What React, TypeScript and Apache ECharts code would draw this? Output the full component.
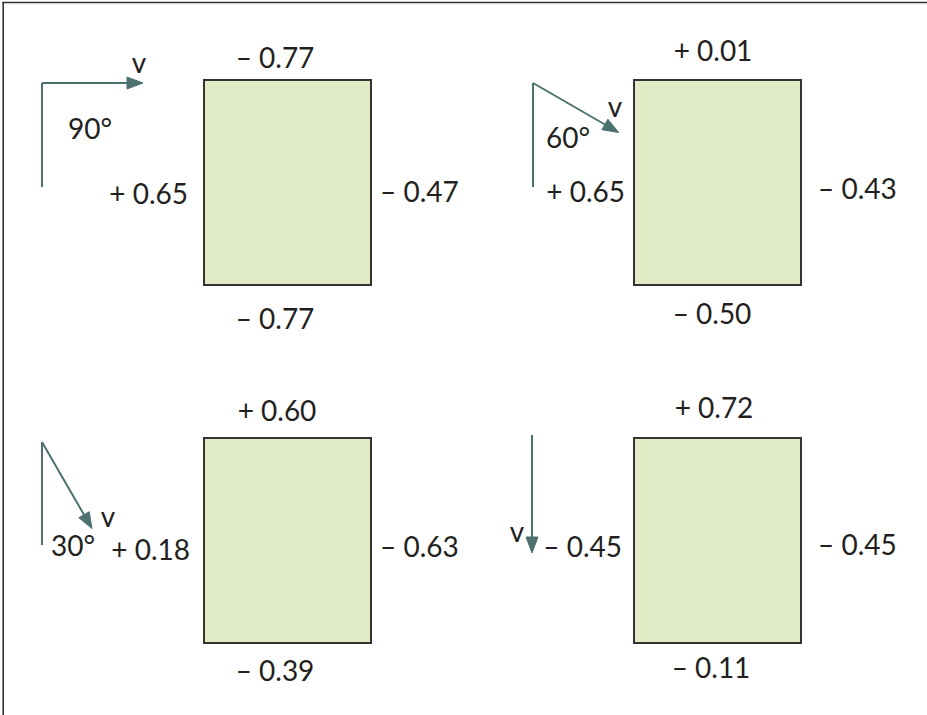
import React, { useEffect, useRef } from "react";
import * as echarts from "echarts";

// ---- data ----
const topValues = [-0.77, 0.01, 0.6, 0.72];
const bottomValues = [-0.77, -0.5, -0.39, -0.11];
const leftValues = [0.65, 0.65, 0.18, -0.45];
const rightValues = [-0.47, -0.43, -0.63, -0.45];
const angles = [90, 60, 30, 0];
const vectorLabel = "v";

// ---- layout (pixels) ----
const rectX = [204, 634, 204, 634];
const rectY = [80, 80, 438, 438];
const rectW = 167;
const rectH = 205;
const topLabelPos = [[275, 57], [713, 50], [277, 410], [714, 407]];
const bottomLabelPos = [[275, 318], [712, 313], [275, 670], [711, 667]];
const leftLabelPos = [[188, 193], [625, 191], [190, 549], [622, 546]];
const rightLabelPos = [[380, 191], [818, 188], [380, 546], [818, 544]];
const arrowOrigin = [[42, 83], [533, 83], [42, 442], [532, 435]];
const refLineBottom = [187, 187, 545, null];
const arrowLength = [101, 99, 100, 118];
const vLabelPos = [[139, 62], [615, 106], [108, 516], [517, 531]];
const angleLabelPos = [[68, 128], [546, 137], [51, 545], null];

const FONT = "Lato, 'Open Sans', sans-serif";
const FONT_SIZE = 28;
const TEXT_COLOR = "#231f20";
const ARROW_COLOR = "#4d7170";
const FILL = "#e1ecc7";

function fmt(v: number): string {
  const sign = v < 0 ? "\u2013" : "+";
  return sign + " " + Math.abs(v).toFixed(2);
}

function text(str: string, x: number, y: number, align: string) {
  return {
    type: "text",
    x,
    y,
    silent: true,
    style: {
      text: str,
      fill: TEXT_COLOR,
      fontSize: FONT_SIZE,
      fontFamily: FONT,
      align,
      verticalAlign: "middle",
    },
  };
}

function buildGraphic() {
  const els: any[] = [];
  // frame (top and left edges)
  els.push({
    type: "line",
    silent: true,
    shape: { x1: 2.4, y1: 2.5, x2: 927, y2: 2.5 },
    style: { stroke: "#333", lineWidth: 1.6 },
  });
  els.push({
    type: "line",
    silent: true,
    shape: { x1: 3.2, y1: 2, x2: 3.2, y2: 715 },
    style: { stroke: "#333", lineWidth: 1.6 },
  });
  for (let i = 0; i < 4; i++) {
    els.push({
      type: "rect",
      silent: true,
      shape: { x: rectX[i], y: rectY[i], width: rectW, height: rectH },
      style: { fill: FILL, stroke: "#333", lineWidth: 2 },
    });
    els.push(text(fmt(topValues[i]), topLabelPos[i][0], topLabelPos[i][1], "center"));
    els.push(text(fmt(bottomValues[i]), bottomLabelPos[i][0], bottomLabelPos[i][1], "center"));
    els.push(text(fmt(leftValues[i]), leftLabelPos[i][0], leftLabelPos[i][1], "right"));
    els.push(text(fmt(rightValues[i]), rightLabelPos[i][0], rightLabelPos[i][1], "left"));

    // reference (vertical) line
    const [ox, oy] = arrowOrigin[i];
    const rb = refLineBottom[i];
    if (rb !== null) {
      els.push({
        type: "line",
        silent: true,
        shape: { x1: ox, y1: rb, x2: ox, y2: oy },
        style: { stroke: ARROW_COLOR, lineWidth: 2 },
      });
    }
    // vector arrow at angle from downward vertical
    const a = (angles[i] * Math.PI) / 180;
    const dx = Math.sin(a);
    const dy = Math.cos(a);
    const L = arrowLength[i];
    const tipX = ox + dx * L;
    const tipY = oy + dy * L;
    const headLen = 16;
    const headHalf = 6;
    const bx = tipX - dx * headLen;
    const by = tipY - dy * headLen;
    const px = -dy;
    const py = dx;
    els.push({
      type: "line",
      silent: true,
      shape: { x1: ox, y1: oy, x2: bx + dx, y2: by + dy },
      style: { stroke: ARROW_COLOR, lineWidth: 2 },
    });
    els.push({
      type: "polygon",
      silent: true,
      shape: {
        points: [
          [tipX, tipY],
          [bx + px * headHalf, by + py * headHalf],
          [bx - px * headHalf, by - py * headHalf],
        ],
      },
      style: { fill: ARROW_COLOR, stroke: ARROW_COLOR, lineWidth: 1 },
    });
    els.push(text(vectorLabel, vLabelPos[i][0], vLabelPos[i][1], "center"));
    const ap = angleLabelPos[i];
    if (ap) {
      els.push(text(angles[i] + "\u00b0", ap[0], ap[1], "left"));
    }
  }
  return els;
}

export default function App() {
  const ref = useRef<HTMLDivElement>(null);
  useEffect(() => {
    if (!ref.current) return;
    const chart = echarts.init(ref.current, null, { renderer: "svg" });
    chart.setOption({
      animation: false,
      backgroundColor: "#ffffff",
      graphic: { elements: buildGraphic() },
    });
    return () => chart.dispose();
  }, []);
  return (
    <div
      ref={ref}
      style={{ position: "absolute", left: 0, top: 0, width: 927, height: 715, background: "#fff" }}
    />
  );
}
